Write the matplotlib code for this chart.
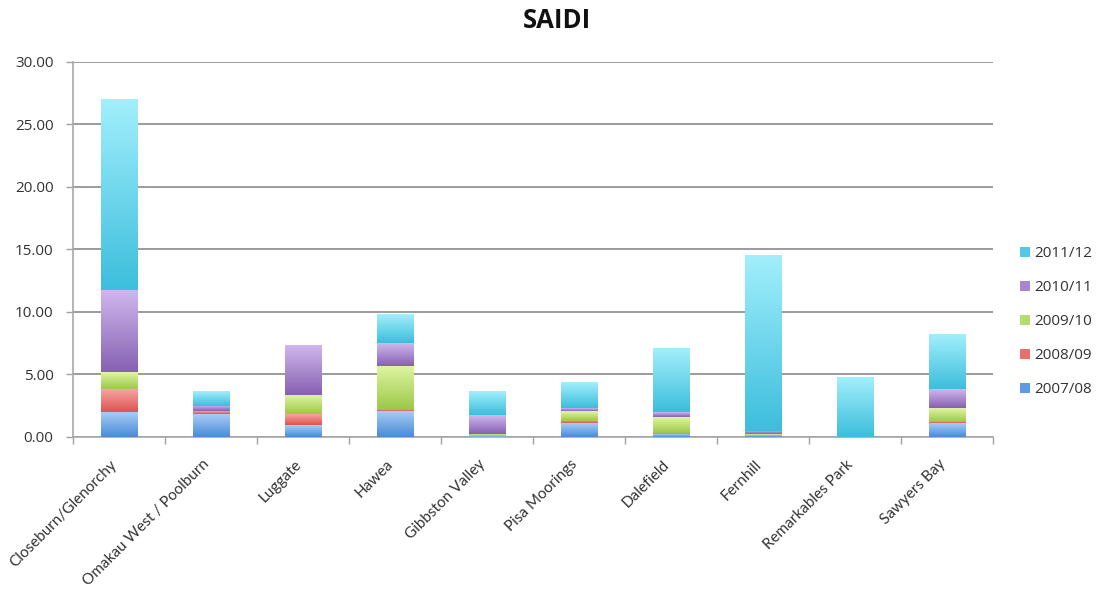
import matplotlib
matplotlib.use("Agg")
import matplotlib.pyplot as plt
import numpy as np
from matplotlib.colors import LinearSegmentedColormap
from matplotlib.patches import Patch
from matplotlib.transforms import ScaledTranslation

categories = ["Closeburn/Glenorchy", "Omakau West / Poolburn", "Luggate", "Hawea",
              "Gibbston Valley", "Pisa Moorings", "Dalefield", "Fernhill",
              "Remarkables Park", "Sawyers Bay"]
series_names = ["2007/08", "2008/09", "2009/10", "2010/11", "2011/12"]
v0708 = [2.00, 1.84, 0.91, 2.06, 0.02, 1.07, 0.22, 0.15, 0.00, 1.07]
v0809 = [1.80, 0.22, 0.88, 0.16, 0.00, 0.21, 0.05, 0.00, 0.00, 0.13]
v0910 = [1.35, 0.00, 1.55, 3.46, 0.18, 0.80, 1.28, 0.05, 0.00, 1.12]
v1011 = [6.60, 0.42, 3.95, 1.80, 1.52, 0.24, 0.40, 0.28, 0.00, 1.48]
v1112 = [15.25, 1.18, 0.00, 2.32, 1.92, 2.04, 5.05, 14.07, 4.80, 4.35]
yticks = [0, 5, 10, 15, 20, 25, 30]

series_values = [v0708, v0809, v0910, v1011, v1112]
# (top colour, bottom colour, legend colour)
colours = [("#a6cdf6", "#4a8ad6", "#5b9be0"),
           ("#f6a5a2", "#dc5450", "#e8706c"),
           ("#e0f6a2", "#9cc84a", "#b6dc6e"),
           ("#d0b8ee", "#8660b2", "#a686d0"),
           ("#a2effc", "#3cbedc", "#52c8e4")]

plt.rcParams['font.family'] = ['Open Sans', 'DejaVu Sans']
fig = plt.figure(figsize=(11.12, 5.90), dpi=100)
ax = fig.add_axes([0.0656, 0.26, 0.8275, 0.635])

x = np.arange(len(categories))
width = 0.40
bottom = np.zeros(len(categories))
grad = np.linspace(0, 1, 256).reshape(-1, 1)
for vals, (ctop, cbot, cleg) in zip(series_values, colours):
    vals = np.array(vals)
    bars = ax.bar(x, vals, width, bottom=bottom, color="none", edgecolor="none", zorder=3)
    cmap = LinearSegmentedColormap.from_list("g", [cbot, ctop])
    for b in bars:
        h = b.get_height()
        if h <= 0:
            continue
        x0 = b.get_x()
        y0 = b.get_y()
        ax.imshow(grad, extent=[x0, x0 + b.get_width(), y0, y0 + h], origin="lower",
                  aspect="auto", cmap=cmap, zorder=3, interpolation="bilinear")
    bottom = bottom + vals

ax.set_xlim(-0.5, len(categories) - 0.5)
ax.set_ylim(0, 30)
ax.set_yticks(yticks)
ax.set_yticklabels([f"{t:.2f}" for t in yticks], fontsize=11, color="#333333")
ax.yaxis.grid(True, color="#8a8a8a", linewidth=1.2, zorder=0)
ax.set_axisbelow(True)

ax.set_xticks(x)
ax.set_xticklabels(categories, rotation=45, ha="right", va="center",
                   rotation_mode="anchor", fontsize=11,
                   family=["Lato", "DejaVu Sans"], color="#333333")
ax.tick_params(axis="x", which="major", length=0, pad=17)
offset = ScaledTranslation(-4 / 100, -2 / 100, fig.dpi_scale_trans)
for lab in ax.get_xticklabels():
    lab.set_transform(lab.get_transform() + offset)
ax.set_xticks(np.arange(-0.5, len(categories), 1.0), minor=True)
ax.tick_params(axis="x", which="minor", length=5, color="#a0a0a0", width=1)
ax.tick_params(axis="y", length=5, color="#a0a0a0", width=1, pad=9)

for s in ["top", "right"]:
    ax.spines[s].set_visible(False)
for s in ["left", "bottom"]:
    ax.spines[s].set_color("#a8a8a8")
    ax.spines[s].set_linewidth(1.2)

fig.text(0.501, 0.965, "SAIDI", ha="center", va="center", fontsize=18.5,
         fontweight="bold", color="#111111")

handles = [Patch(facecolor=c[2], edgecolor="none") for c in colours]
leg = fig.legend(handles[::-1], series_names[::-1], loc="center left",
                 bbox_to_anchor=(0.905, 0.4547), frameon=False, fontsize=11,
                 handlelength=0.65, handleheight=0.65, labelspacing=1.25,
                 handletextpad=0.25)
for t in leg.get_texts():
    t.set_color("#333333")

fig.savefig("out.png", dpi=100)
